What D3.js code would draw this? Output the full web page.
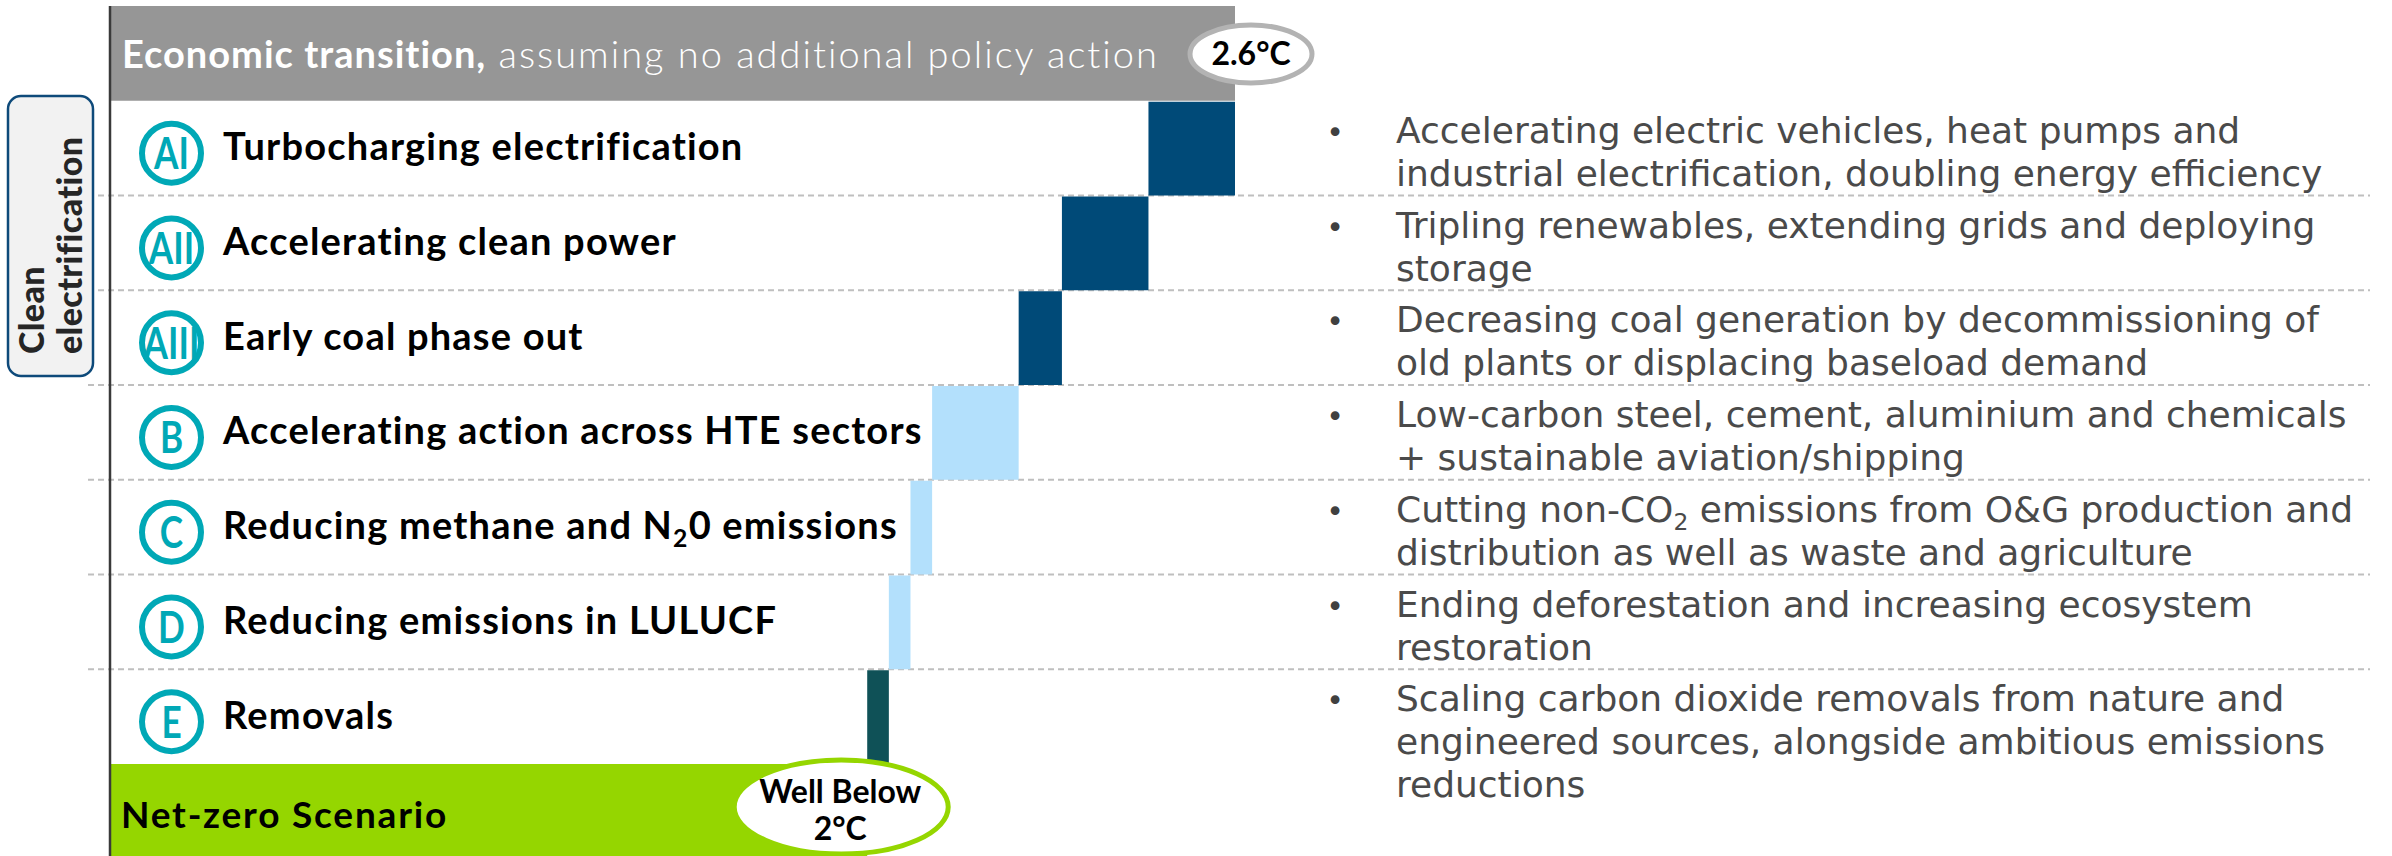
<!DOCTYPE html>
<html>
<head>
<meta charset="utf-8">
<script src="https://cdn.jsdelivr.net/npm/d3@7"></script>
<style>
  html, body { margin: 0; padding: 0; background: #fff; }
  svg { display: block; }
</style>
</head>
<body>
<svg id="chart" width="2392" height="856"></svg>
<script>
// levers, top to bottom
const rowIds = ["AI", "AII", "AIII", "B", "C", "D", "E"];
const rowLabels = [
  "Turbocharging electrification",
  "Accelerating clean power",
  "Early coal phase out",
  "Accelerating action across HTE sectors",
  "Reducing methane and N{2}0 emissions",
  "Reducing emissions in LULUCF",
  "Removals"
];
// warming avoided by each lever (degC)
const reductions = [0.2, 0.2, 0.1, 0.2, 0.05, 0.05, 0.05];
const barKinds = ["power", "power", "power", "sector", "sector", "sector", "removal"];
const descriptions = [
  ["Accelerating electric vehicles, heat pumps and", "industrial electrification, doubling energy efficiency"],
  ["Tripling renewables, extending grids and deploying", "storage"],
  ["Decreasing coal generation by decommissioning of", "old plants or displacing baseload demand"],
  ["Low-carbon steel, cement, aluminium and chemicals", "+ sustainable aviation/shipping"],
  ["Cutting non-CO{2} emissions from O&G production and", "distribution as well as waste and agriculture"],
  ["Ending deforestation and increasing ecosystem", "restoration"],
  ["Scaling carbon dioxide removals from nature and", "engineered sources, alongside ambitious emissions", "reductions"]
];
const startTemp = 2.6;
const startLabel = "2.6°C";
const endLabel = ["Well Below", "2°C"];
const headerBold = "Economic transition,";
const headerRest = " assuming no additional policy action";
const footerLabel = "Net-zero Scenario";
const groupLabel = ["Clean", "electrification"];

const colors = { power: "#004a78", sector: "#b3e0fc", removal: "#0f5157" };
const teal = "#00a8b6", green = "#95d600", grey = "#969696";
const boldFont = "Lato, 'Open Sans', sans-serif";
const descFont = "'DejaVu Sans', sans-serif";

const svg = d3.select("#chart");
const axisX = 110;

// waterfall steps
let level = startTemp;
const steps = rowIds.map((id, i) => {
  const s = { id, hi: level, lo: level - reductions[i], kind: barKinds[i] };
  level = s.lo;
  return s;
});
const endTemp = level;

const x = d3.scaleLinear().domain([0, startTemp]).range([axisX, 1235]);
const y = d3.scaleBand().domain(["header", ...rowIds, "footer"]).range([6, 858.75]);
const bw = y.bandwidth();

// text with {subscript} parts
function addRich(t, str, size) {
  let shift = 0;
  str.split(/(\{[^}]*\})/).filter(s => s).forEach(part => {
    const sub = part[0] === "{";
    const sp = t.append("tspan").text(sub ? part.slice(1, -1) : part);
    const target = sub ? size * 0.22 : 0;
    if (target !== shift) sp.attr("dy", target - shift);
    shift = target;
    if (sub) sp.attr("font-size", size * 0.65);
  });
}

// dashed separators
svg.append("g").selectAll("line")
  .data(rowIds.slice(1))
  .join("line")
  .attr("x1", 88).attr("x2", 2370)
  .attr("y1", d => y(d)).attr("y2", d => y(d))
  .attr("stroke", "#bfbfbf").attr("stroke-width", 2)
  .attr("stroke-dasharray", "6,4");

// start and end bands
svg.append("rect")
  .attr("x", x(0)).attr("y", y("header"))
  .attr("width", x(startTemp) - x(0)).attr("height", bw)
  .attr("fill", grey);
svg.append("rect")
  .attr("x", x(0)).attr("y", y("footer"))
  .attr("width", x(endTemp) - x(0)).attr("height", bw)
  .attr("fill", green);

// lever bars
svg.append("g").selectAll("rect")
  .data(steps)
  .join("rect")
  .attr("x", d => x(d.lo))
  .attr("y", d => y(d.id) + 1)
  .attr("width", d => x(d.hi) - x(d.lo))
  .attr("height", bw - 1)
  .attr("fill", d => colors[d.kind]);

// axis line
svg.append("line")
  .attr("x1", axisX).attr("x2", axisX)
  .attr("y1", 6).attr("y2", 856)
  .attr("stroke", "#3a3a3a").attr("stroke-width", 2.5);

// header text
const ht = svg.append("text")
  .attr("x", 122).attr("y", 68)
  .attr("font-family", boldFont).attr("font-size", 38)
  .attr("fill", "#fff");
ht.append("tspan").attr("font-weight", 700).attr("letter-spacing", 1).text(headerBold);
ht.append("tspan").attr("font-weight", 300).attr("letter-spacing", 2).text(headerRest);

// group box
svg.append("rect")
  .attr("x", 8).attr("y", 96).attr("width", 85).attr("height", 280)
  .attr("rx", 13)
  .attr("fill", "#f2f2f2").attr("stroke", "#0e4a7a").attr("stroke-width", 2.5);
groupLabel.forEach((s, i) => {
  svg.append("text")
    .attr("transform", `translate(${44 + i * 38},354) rotate(-90)`)
    .attr("font-family", boldFont).attr("font-weight", 900)
    .attr("font-size", 34).attr("letter-spacing", 0.4).attr("fill", "#262626")
    .text(s);
});

// row markers and labels
rowIds.forEach((id, i) => {
  const cy = y(id) + bw / 2 + 5;
  svg.append("circle")
    .attr("cx", 171.5).attr("cy", cy).attr("r", 29.5)
    .attr("fill", "#fff").attr("stroke", teal).attr("stroke-width", 6);
  const c = svg.append("text")
    .attr("x", 171.5).attr("y", cy + 16)
    .attr("text-anchor", "middle")
    .attr("font-family", boldFont).attr("font-weight", 700)
    .attr("font-size", 44).attr("fill", teal)
    .text(id);
  const len = c.node().getComputedTextLength();
  c.attr("textLength", len * 0.8).attr("lengthAdjust", "spacingAndGlyphs");

  const t = svg.append("text")
    .attr("x", 223).attr("y", y(id) + bw / 2 + 12)
    .attr("font-family", boldFont).attr("font-weight", 700)
    .attr("font-size", 38).attr("letter-spacing", 1.2).attr("fill", "#000");
  addRich(t, rowLabels[i], 38);
});

svg.append("text")
  .attr("x", 121).attr("y", 828)
  .attr("font-family", boldFont).attr("font-weight", 700)
  .attr("font-size", 37).attr("letter-spacing", 1.8).attr("fill", "#000")
  .text(footerLabel);

// descriptions
descriptions.forEach((lines, i) => {
  const top = y(rowIds[i]);
  svg.append("text")
    .attr("x", 1335).attr("y", top + 42)
    .attr("text-anchor", "middle")
    .attr("font-family", descFont).attr("font-size", 30).attr("fill", "#404040")
    .text("•");
  lines.forEach((line, j) => {
    const t = svg.append("text")
      .attr("x", 1396).attr("y", top + 42 + j * 43)
      .attr("font-family", descFont).attr("font-size", 36).attr("fill", "#4a4a4a");
    addRich(t, line, 36);
  });
});

// temperature badges
const sx = x(startTemp) + 16;
svg.append("ellipse")
  .attr("cx", sx).attr("cy", 54).attr("rx", 61).attr("ry", 29)
  .attr("fill", "#fff").attr("stroke", "#b3b3b3").attr("stroke-width", 5);
svg.append("text")
  .attr("x", sx).attr("y", 65).attr("text-anchor", "middle")
  .attr("font-family", boldFont).attr("font-weight", 700)
  .attr("font-size", 32).attr("fill", "#000")
  .text(startLabel);

const ex = x(endTemp) - 26;
svg.append("ellipse")
  .attr("cx", ex).attr("cy", 807).attr("rx", 107).attr("ry", 47)
  .attr("fill", "#fff").attr("stroke", green).attr("stroke-width", 5);
endLabel.forEach((s, i) => {
  svg.append("text")
    .attr("x", ex - 1).attr("y", 803 + i * 37).attr("text-anchor", "middle")
    .attr("font-family", boldFont).attr("font-weight", 700)
    .attr("font-size", 32).attr("fill", "#000")
    .text(s);
});
</script>
</body>
</html>
